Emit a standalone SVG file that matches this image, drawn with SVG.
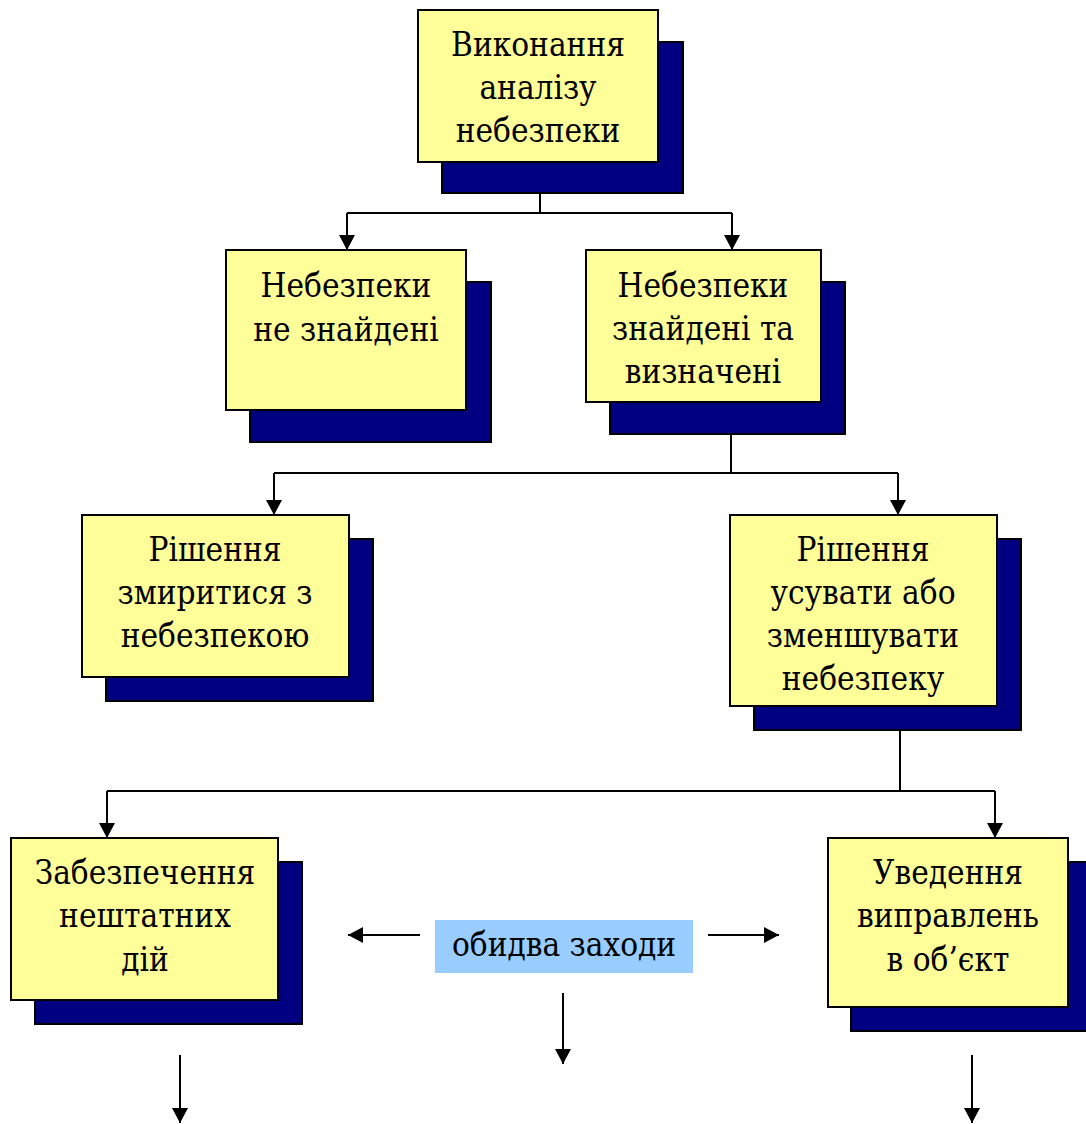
<svg xmlns="http://www.w3.org/2000/svg" width="1086" height="1124" viewBox="0 0 1086 1124">
<defs>
<style>
.sh{fill:#000080;stroke:#000;stroke-width:2}
.bx{fill:#FFFF99;stroke:#000;stroke-width:2}
.t{font-family:'DejaVu Serif Condensed','DejaVu Serif',serif;font-stretch:condensed;font-size:33px;fill:#000;text-anchor:middle}
.c{fill:none;stroke:#000;stroke-width:2}
</style>
<marker id="ah" viewBox="0 0 15 16" refX="15" refY="8" markerWidth="15" markerHeight="16" markerUnits="userSpaceOnUse" orient="auto">
<path d="M0,0 L15,8 L0,16 Z" fill="#000"/>
</marker>
</defs>
<rect width="1086" height="1124" fill="#fff"/>
<g id="connectors">
<path class="c" d="M540,193 V213 M347,213 H732"/>
<path class="c" d="M347,213 V250" marker-end="url(#ah)"/>
<path class="c" d="M732,213 V250" marker-end="url(#ah)"/>
<path class="c" d="M731,434 V473 M274,473 H898"/>
<path class="c" d="M274,473 V515" marker-end="url(#ah)"/>
<path class="c" d="M898,473 V515" marker-end="url(#ah)"/>
<path class="c" d="M900,730 V791 M107,791 H995"/>
<path class="c" d="M107,791 V838" marker-end="url(#ah)"/>
<path class="c" d="M995,791 V838" marker-end="url(#ah)"/>
<path class="c" d="M420,935 H348" marker-end="url(#ah)"/>
<path class="c" d="M708,935 H779" marker-end="url(#ah)"/>
<path class="c" d="M563,993 V1064" marker-end="url(#ah)"/>
<path class="c" d="M180,1055 V1123" marker-end="url(#ah)"/>
<path class="c" d="M972,1055 V1123" marker-end="url(#ah)"/>
</g>
<g id="n1">
<rect class="sh" x="442" y="42" width="241" height="151"/>
<rect class="bx" x="418" y="10" width="240" height="152"/>
<text class="t" x="538" y="56">Виконання</text>
<text class="t" x="538" y="99">аналізу</text>
<text class="t" x="538" y="142">небезпеки</text>
</g>
<g id="n2">
<rect class="sh" x="250" y="282" width="241" height="160"/>
<rect class="bx" x="226" y="250" width="240" height="160"/>
<text class="t" x="346" y="297">Небезпеки</text>
<text class="t" x="346" y="341">не знайдені</text>
</g>
<g id="n3">
<rect class="sh" x="610" y="282" width="235" height="152"/>
<rect class="bx" x="586" y="250" width="235" height="152"/>
<text class="t" x="703" y="297">Небезпеки</text>
<text class="t" x="703" y="340">знайдені та</text>
<text class="t" x="703" y="383">визначені</text>
</g>
<g id="n4">
<rect class="sh" x="106" y="539" width="267" height="162"/>
<rect class="bx" x="82" y="515" width="267" height="162"/>
<text class="t" x="215" y="561">Рішення</text>
<text class="t" x="215" y="604">змиритися з</text>
<text class="t" x="215" y="647">небезпекою</text>
</g>
<g id="n5">
<rect class="sh" x="754" y="539" width="267" height="191"/>
<rect class="bx" x="730" y="515" width="267" height="191"/>
<text class="t" x="863" y="561">Рішення</text>
<text class="t" x="863" y="604">усувати або</text>
<text class="t" x="863" y="647">зменшувати</text>
<text class="t" x="863" y="690">небезпеку</text>
</g>
<g id="n6">
<rect class="sh" x="35" y="862" width="267" height="162"/>
<rect class="bx" x="11" y="838" width="267" height="162"/>
<text class="t" x="145" y="884">Забезпечення</text>
<text class="t" x="145" y="927">нештатних</text>
<text class="t" x="145" y="971">дій</text>
</g>
<g id="n7">
<rect class="sh" x="851" y="862" width="240" height="169"/>
<rect class="bx" x="828" y="838" width="240" height="169"/>
<text class="t" x="948" y="884">Уведення</text>
<text class="t" x="948" y="927">виправлень</text>
<text class="t" x="948" y="971">в об’єкт</text>
</g>
<g id="n8">
<rect x="435" y="920" width="258" height="53" fill="#99CCFF"/>
<text class="t" x="564" y="956">обидва заходи</text>
</g>
</svg>
